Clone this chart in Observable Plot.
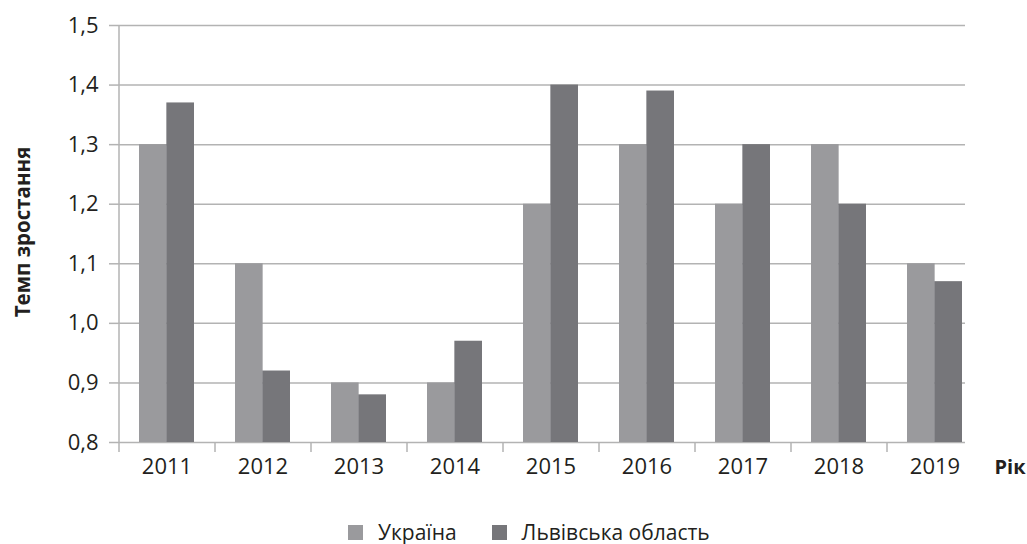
<!DOCTYPE html>
<html>
<head>
<meta charset="utf-8">
<script src="https://cdn.jsdelivr.net/npm/d3@7"></script>
<script src="https://cdn.jsdelivr.net/npm/@observablehq/plot@0.6"></script>
<style>
  html, body { margin: 0; padding: 0; background: #fff; }
  body { font-family: "Open Sans", sans-serif; color: #231f20; width: 1027px; height: 544px; overflow: hidden; }
  #legend { height: 32px; box-sizing: border-box; padding-top: 8px; padding-left: 348px; display: flex; align-items: center; font-size: 21px; }
  .item { display: flex; align-items: center; margin-right: 35px; }
  .sw { width: 15px; height: 15px; margin-right: 15px; }
</style>
</head>
<body>
<div id="chart"></div>
<div id="legend"></div>
<script>
const years = ["2011", "2012", "2013", "2014", "2015", "2016", "2017", "2018", "2019"];
const ukraine = [1.3, 1.1, 0.9, 0.9, 1.2, 1.3, 1.2, 1.3, 1.1];
const lviv = [1.37, 0.92, 0.88, 0.97, 1.4, 1.39, 1.3, 1.2, 1.07];
const seriesNames = ["Україна", "Львівська область"];
const seriesColors = ["#9a9a9d", "#76767a"];
const yTicks = [0.8, 0.9, 1.0, 1.1, 1.2, 1.3, 1.4, 1.5];
const yLabel = "Темп зростання";
const xLabel = "Рік";

const data = years.flatMap((y, i) => [
  {year: y, series: seriesNames[0], value: ukraine[i]},
  {year: y, series: seriesNames[1], value: lviv[i]}
]);
const fmt = d => d.toFixed(1).replace(".", ",");
const grid = "#b3b3b3";
const half = 27.35;

const plot = Plot.plot({
  width: 1027,
  height: 512,
  marginLeft: 118,
  marginRight: 45,
  marginTop: 25,
  marginBottom: 70,
  style: {fontFamily: "'Open Sans', sans-serif", fontSize: "22px", color: "#231f20", background: "#fff"},
  x: {domain: years, paddingInner: 0.43, paddingOuter: 0.215, axis: null, label: null},
  y: {domain: [0.8, 1.5], axis: null, label: null},
  color: {domain: seriesNames, range: seriesColors},
  marks: [
    Plot.ruleY(yTicks, {stroke: grid, strokeWidth: 1.5, insetRight: 17}),
    Plot.ruleX([years[0]], {x: d => d, dx: -48, y1: 0.8, y2: 1.5, stroke: grid, strokeWidth: 1.5}),
    Plot.axisY(yTicks, {tickSize: 9, tickFormat: () => "", label: null, stroke: grid, strokeWidth: 1.5}),
    Plot.axisY(yTicks, {tickSize: 0, tickPadding: 20, tickFormat: fmt, label: null, fill: "#231f20", fontSize: 22}),
    Plot.axisX({tickSize: 10, tickFormat: () => "", label: null, dx: -48, stroke: grid, strokeWidth: 1.5}),
    Plot.axisX({tickSize: 0, tickPadding: 16, label: null, fontSize: 22, fill: "#231f20"}),
    Plot.barY(data.filter(d => d.series === seriesNames[0]), {x: "year", y1: 0.8, y2: "value", fill: "series", insetRight: half}),
    Plot.barY(data.filter(d => d.series === seriesNames[1]), {x: "year", y1: 0.8, y2: "value", fill: "series", insetLeft: half}),
    Plot.text([yLabel], {text: d => d, frameAnchor: "left", dx: -95, dy: -2, rotate: -90, textAnchor: "middle", lineAnchor: "middle", fontWeight: "bold", fontSize: 20.5, fill: "#231f20"}),
    Plot.text([xLabel], {text: d => d, frameAnchor: "bottom-right", dx: 12, dy: 25, textAnchor: "start", lineAnchor: "middle", fontWeight: "bold", fontSize: 20, fill: "#231f20"})
  ]
});
document.getElementById("chart").appendChild(plot);

const legend = document.getElementById("legend");
seriesNames.forEach((name, i) => {
  const item = document.createElement("div");
  item.className = "item";
  const sw = document.createElement("span");
  sw.className = "sw";
  sw.style.background = seriesColors[i];
  const label = document.createElement("span");
  label.textContent = name;
  item.appendChild(sw);
  item.appendChild(label);
  legend.appendChild(item);
});
</script>
</body>
</html>
